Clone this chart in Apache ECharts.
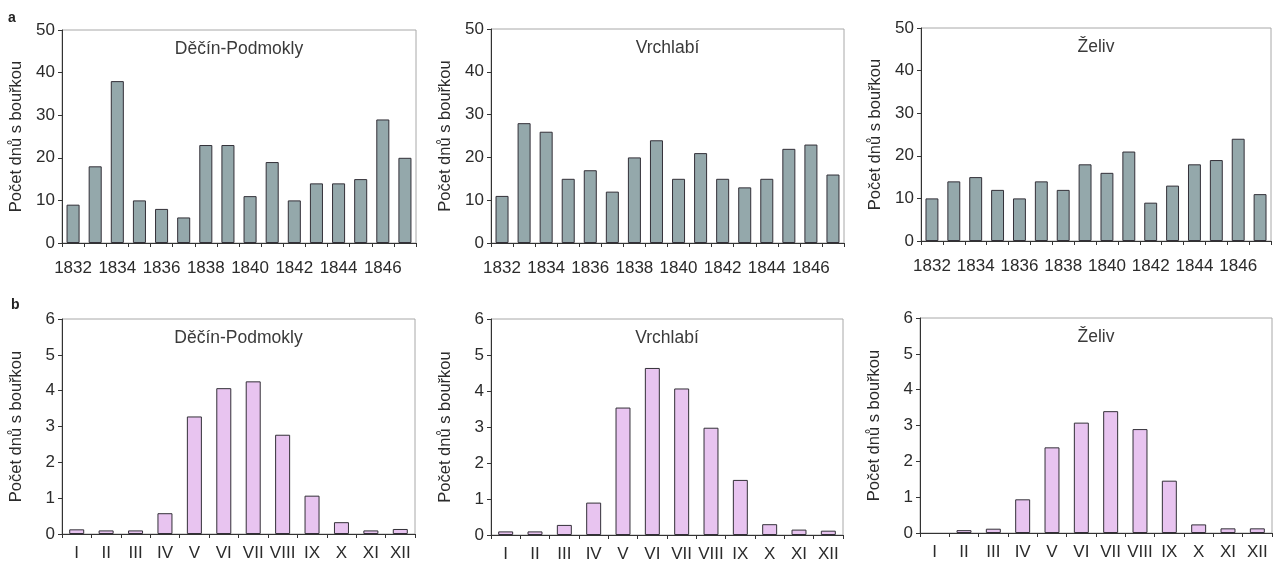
<!DOCTYPE html>
<html>
<head>
<meta charset="utf-8">
<script src="https://cdn.jsdelivr.net/npm/echarts@6/dist/echarts.min.js"></script>
<style>
  html, body { margin: 0; padding: 0; background: #fff; }
  #chart { width: 1274px; height: 568px; }
</style>
</head>
<body>
<div id="chart"></div>
<script>
// data
const years = ['1832', '1833', '1834', '1835', '1836', '1837', '1838', '1839',
  '1840', '1841', '1842', '1843', '1844', '1845', '1846', '1847'];
const months = ['I', 'II', 'III', 'IV', 'V', 'VI', 'VII', 'VIII', 'IX', 'X', 'XI', 'XII'];
const stations = ['Děčín-Podmokly', 'Vrchlabí', 'Želiv'];

const decinYears = [9, 18, 38, 10, 8, 6, 23, 23, 11, 19, 10, 14, 14, 15, 29, 20];
const vrchlabiYears = [11, 28, 26, 15, 17, 12, 20, 24, 15, 21, 15, 13, 15, 22, 23, 16];
const zelivYears = [10, 14, 15, 12, 10, 14, 12, 18, 16, 21, 9, 13, 18, 19, 24, 11];

const decinMonths = [0.13, 0.1, 0.1, 0.58, 3.28, 4.07, 4.26, 2.77, 1.07, 0.33, 0.1, 0.14];
const vrchlabiMonths = [0.1, 0.1, 0.28, 0.9, 3.54, 4.64, 4.07, 2.98, 1.53, 0.3, 0.15, 0.12];
const zelivMonths = [0, 0.08, 0.12, 0.94, 2.39, 3.08, 3.4, 2.9, 1.46, 0.24, 0.13, 0.13];

const yearSeries = [decinYears, vrchlabiYears, zelivYears];
const monthSeries = [decinMonths, vrchlabiMonths, zelivMonths];

// layout of the six panels
const grids = [
  {left: 62, top: 30, width: 354, height: 213},
  {left: 491, top: 29, width: 353, height: 214},
  {left: 921, top: 28, width: 350, height: 213},
  {left: 62, top: 319, width: 353, height: 215},
  {left: 491, top: 319, width: 352, height: 216},
  {left: 920, top: 318, width: 352, height: 215}
];

const font = 'Liberation Sans, Arial, sans-serif';
const textColor = '#2b2b2b';
const yName = 'Počet dnů s bouřkou';

let xAxes = [], yAxes = [], series = [], graphics = [];

grids.forEach(function(g, i) {
  const top = i < 3;
  const values = top ? yearSeries[i] : monthSeries[i - 3];
  xAxes.push({
    gridIndex: i,
    type: 'category',
    data: top ? years : months,
    boundaryGap: true,
    axisLine: {lineStyle: {color: '#333', width: 1}},
    axisTick: {show: true, length: 4, interval: 0, lineStyle: {color: '#333'}},
    axisLabel: {
      interval: top ? 1 : 0,
      color: textColor, fontFamily: font, fontSize: 17,
      margin: top ? 17 : 11
    }
  });
  yAxes.push({
    gridIndex: i,
    type: 'value',
    min: 0,
    max: top ? 50 : 6,
    interval: top ? 10 : 1,
    name: yName,
    nameLocation: 'middle',
    nameGap: 37,
    nameTextStyle: {color: textColor, fontFamily: font, fontSize: 16.5},
    axisLine: {show: true, lineStyle: {color: '#333', width: 1}},
    axisTick: {show: true, length: 4, lineStyle: {color: '#333'}},
    axisLabel: {color: textColor, fontFamily: font, fontSize: 17, margin: 7},
    splitLine: {show: false}
  });
  series.push({
    type: 'bar',
    xAxisIndex: i,
    yAxisIndex: i,
    // zero-height bars are not drawn in the original
    data: values.map(function(v) {
      return v === 0 ? {value: v, itemStyle: {borderWidth: 0}} : v;
    }),
    barCategoryGap: top ? '41%' : '49%',
    itemStyle: {
      color: top ? '#94a8ab' : '#e8c4f0',
      borderColor: '#333038',
      borderWidth: 1
    },
    silent: true
  });
  graphics.push({
    type: 'text',
    x: g.left + g.width / 2,
    y: g.top + 10,
    style: {
      text: stations[i % 3],
      textAlign: 'center',
      fill: '#3a3a3a',
      font: '17.5px ' + font
    }
  });
});

// panel letters
graphics.push({type: 'text', x: 8, y: 11, style: {text: 'a', fill: '#222', font: 'bold 14px ' + font}});
graphics.push({type: 'text', x: 11, y: 298, style: {text: 'b', fill: '#222', font: 'bold 14px ' + font}});

const chart = echarts.init(document.getElementById('chart'));
chart.setOption({
  backgroundColor: '#fff',
  animation: false,
  grid: grids.map(function(g) {
    return Object.assign({show: true, borderColor: '#a8a8a8', borderWidth: 1,
      backgroundColor: 'transparent'}, g);
  }),
  xAxis: xAxes,
  yAxis: yAxes,
  series: series,
  graphic: graphics
});
</script>
</body>
</html>
